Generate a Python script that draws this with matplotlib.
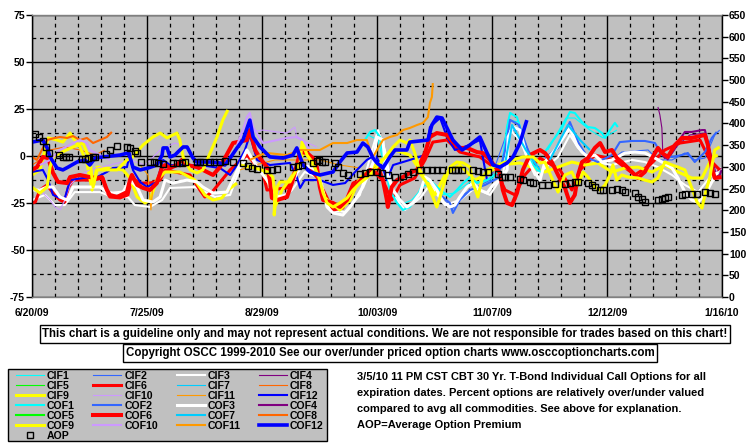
import numpy as np
import matplotlib
matplotlib.use("Agg")
import matplotlib.pyplot as plt
from matplotlib.lines import Line2D
from matplotlib.patches import Rectangle

N = np.nan

# ---- axis data ----
x_tick_days = [0, 35, 70, 105, 140, 175, 210]
x_tick_labels = ['6/20/09', '7/25/09', '8/29/09', '10/03/09', '11/07/09', '12/12/09', '1/16/10']
left_ticks = [-75, -50, -25, 0, 25, 50, 75]
right_ticks = list(range(0, 651, 50))

# ---- series (day offset from 6/20/09, percent over/under) ----
cif1_days = [102.2,105.3,108.3,112,115.6,119.6,124.2,128.7,133.3,139.4,143,144.9,148.2,151.5,154,157,162.5,165.2,169.8,173.8,176.5,178]
cif1_vals = [11.2,8.5,-12.8,-26.1,-23.4,-15.4,-20.7,-19.7,-13.8,-13.8,-4.8,19.2,18.1,-4.8,N,3.2,20.2,20.2,13.8,9.6,12.2,13.8]

cif2_days = [125.7,127.8,130.9,139.4,144.9,148.5,153.4,155,176.5,179.5,187.5,190.5,194.8,198.7,201.7,204.8,207.8,209.3]
cif2_vals = [-23.4,-28.7,-20.7,-12.8,13.8,13.8,-6.4,N,-2.1,2.1,3.2,-2.1,-2.1,1.6,-2.1,-1.1,11.2,13.8]

cif3_days = [0,4,7,10,13,20.7,25.3,29.2,31.3,35.9,39.6,42,49.6,55.7,60.3,63.3,66.3,70.9,75.5,79.1,
             83,87.6,90.7,95.3,99.8,103.5,105.3,107.4,109.9,113.5,118.1,121.1,125.7,130.2,134.8,139.4,143.3,145.5,148.5,153,
             156.1,160.1,163.7,166.2,171.3,176.5,182.6,186.5,190.5,194.8,198.7,202.7,206.9,209.9]
cif3_vals = [-23.4,-20.7,-26.1,-26.1,-19.2,-19.2,-22.3,-21.8,-26.1,-27.1,-23.4,-17.0,-16.5,-21.8,-20.7,-6.4,0.5,-10.1,-23.4,-18.1,
             -8.5,-11.7,-28.7,-29.8,-20.7,3.2,13.8,3.2,-20.7,-28.7,-22.3,-15.4,-26.1,-23.4,-17.0,-20.7,-10.1,13.8,8.5,-10.1,
             -6.4,-0.5,11.2,4.3,-3.2,-4.8,-2.1,-3.2,-5.9,-10.1,-15.4,-19.2,-10.1,-6.4]

cif4_days = [190.5,191.1,191.7,192,193.5,196.6,200.2,204.8,206.3,208.1,209.9]
cif4_vals = [26.1,21.8,14.9,0.5,-2.1,5.9,11.2,12.2,3.2,-8.5,-6.4]

cif5_days = []
cif5_vals = []

cif6_days = [0,1,2.4,4.6,6.4,8.5,10,11,12.5,18.6,21.6,22.8,23.7,26.8,29.2,30.4,32.9,35.9,39,40.5,
             43.5,48.1,51.1,52.6,54.8,60.3,65.4,70.3,71.5,77.6,81.6,86.7,91.6,94.6,97.7,101.3,105.3,107.4,109.5,112,
             116.5,119.6,122,126.3,130.2,136.3,140.9,144,147,150,154.6,160.7,164.3,166.8,171.3,177.4,183.5,188,192.6,197.2,
             203.3,206.3,209.3]
cif6_vals = [-25.0,-24.5,-18.1,-15.4,-19.7,-23.4,-24.5,-17.0,-12.8,-12.8,-11.7,-19.2,-21.8,-22.3,-20.7,-11.7,-14.4,-14.4,-12.8,-7.4,
             -8.5,-10.1,-18.1,-21.8,-19.2,-7.4,0.5,-9.0,-18.1,-17.0,-2.1,-11.2,-28.7,-27.7,-14.4,-11.7,-4.8,-15.4,-23.4,-15.4,
             -11.7,-2.1,7.4,8.5,2.1,-0.5,-6.4,-18.1,-20.7,-10.1,-1.1,-7.4,-18.1,-7.4,0.5,-2.1,-10.1,-4.8,3.2,6.9,
             8.5,-2.1,-7.4]

cif7_days = []
cif7_vals = []

cif8_days = [0,2.4,5.5,10,14.6,19.2,22.2]
cif8_vals = [-4.8,-2.1,3.2,4.8,3.2,0.5,3.2]

cif9_days = [0,2.4,4.9,7.6,9.4,11.6,12.5,14.6,16.7,18.3,19.8,27.7,29.8,32,34.4,35.9,38,40.5,45,49.6,
             52.6,55.1,57.8,59.6,62.4,64,66.3,69.7,72.4,74.2,76.1,80,83,86.1,89.2,93.7,96.8,99.8,104.4,110.5,
             115,119.6,122.6,125.7,130.2,134.8,137.9,142.4,148.5,156.1,160.1,164.3,168.3,172.2,176.5,180.5,184.4,188.7,192.6,196.6,
             200.8,203.9,206.9,208.7]
cif9_vals = [-10.1,-7.4,9.6,8.5,7.4,12.2,9.6,4.8,-3.7,-18.1,-5.9,-7.4,-11.7,-21.8,-25.0,-23.4,-12.8,-8.5,-8.5,-12.8,
             -20.7,-23.4,-22.3,-18.1,-14.4,N,-4.8,-7.4,-15.4,-26.1,-18.1,-8.5,3.2,-6.4,-22.3,-28.7,-23.4,-11.7,-4.8,3.2,
             0.5,-11.7,-20.7,-10.1,-4.8,-12.8,-10.1,-4.8,-3.7,-8.5,-5.9,-3.2,-4.8,-3.7,-8.5,-6.4,-5.9,-8.5,-4.8,-8.5,
             -11.7,-11.7,-1.1,0.5]

cif10_days = [2.4,5.5,7,8.5,10,11.6,14.6,17.6,23.7,29.8,34.4,39,43.5,48.1,55,66.3,70.3,74.6,77.6,80,80.6,86.7]
cif10_vals = [-18.1,-23.4,-27.1,-28.7,-23.4,-15.4,-10.1,-7.4,-4.8,-2.1,-4.8,3.2,6.9,4.3,N,12.8,13.8,12.8,12.2,15.4,9.6,4.8]

cif11_days = [32.9,35.3,36.2,36.8,39,50,63.3,67.9,74,81.6,87.6,93.7,99.8]
cif11_vals = [-4.8,-10.1,-28.7,-15.4,-8.5,N,-7.4,-4.8,-2.1,-2.1,-2.1,-4.8,-6.4]

cif12_days = [0,3.3,4.9,6.4,8.5,10,11.6,15.5,19.8,22.8,24.6,28.9,29.8,30.7,32.9,35,38,39.9,42,45,
              51.1,57.2,60.3,62.4,64.8,66.3,68.5,72.4,78.5,80.6,81.6,83,87.6,91.6,95.3,98.9,101.9,104.4,106.8,108,
              109.9,115,119.6,121.1,124.2,126.3,128.7,133.3,136.3,137.9,138.5]
cif12_vals = [-8.5,-7.4,-12.8,-20.7,-22.3,-22.3,-12.8,-11.7,-11.2,-8.5,-6.4,-5.9,1.6,-7.4,-13.8,-16.5,-13.8,-2.1,-4.8,-4.8,
              -4.8,-6.4,-10.1,-4.8,3.2,11.2,-2.1,-4.8,-3.7,-11.2,-17.0,-12.8,-12.8,-15.4,-14.4,-7.4,-2.1,0.5,-6.4,-12.8,
              -4.8,-2.1,0.5,15.4,20.2,10.1,3.2,5.9,8.5,-7.4,-12.8]

cof1_days = [101.3,102.9,104.4,105.9,107.4,108.9,111.1,112.9,115,117.2,119,121.1,124.2,127.2,129.3,131.2,133.3,135.4,138.5,141.5,
             143.3,144.6,145.5,147.6,149.4,151.5,153.7,155.5,155.8,156.1,158.2,161.3,163.7,165.2,167.4,169.2,171.3,173.5,174.4,175.9,
             177.4,178.3]
cof1_vals = [8.5,12.8,13.8,10.1,-3.7,-18.1,-25.0,-28.7,-27.1,-21.8,-14.4,-12.8,-18.1,-21.8,-18.1,-14.4,-11.2,-14.4,-12.8,-9.0,
             -2.1,15.4,22.9,20.7,10.1,-2.1,-7.4,-9.0,N,2.1,7.4,14.9,23.4,22.9,18.1,15.4,14.9,12.2,9.6,13.8,
             17.6,15.4]

cof2_days = [124.2,127.2,128.1,130.2,133.3,137.9,141.8,144,145.5,148.2,150.9,153.4,155,156.1,160.1,163.7,166.2,169.2,172.2,176.5,
             178.9,182.6,186.5,189.6,191.7,194.8,197.8,199.6,201.7,204.8,206.9,208.4]
cof2_vals = [-20.7,-25.0,-30.3,-23.4,-18.1,-15.4,-11.7,3.2,19.2,16.5,3.2,-4.8,N,-1.1,4.3,18.1,7.4,-1.1,-3.2,0.5,
             7.4,8.0,8.0,6.9,0.5,-0.5,0.5,1.6,-3.2,2.1,9.6,12.8]

cof3_days = [0,2.4,4.6,6.4,8.5,10.7,12.5,20.7,22.8,24.6,27.7,29.8,32,33.8,36.8,39,40.5,42.9,47.2,50.2,
             52,55.1,59.3,61.8,65.4,68.5,71.5,74.6,77.6,80.6,82.5,84.6,86.7,88.2,89.8,91.6,94.6,96.8,98.9,100.7,
             102.9,103.8,105,106.8,107.4,108,109.9,112,114.1,115.9,118.1,119.6,121.1,123.2,125.1,127.2,128.7,130.2,132.4,134.2,
             136.3,138.5,140.3,142.4,144.6,144.9,146.4,148.5,150.6,152.5,154.6,156.1,159.2,161.6,163.7,165.8,167.4,169.2,171.3,173.5,
             176.5,178.3,180.5,183.5,186.5,189.6,191.7,194.8,196.6,198.7,200.8,202.7,204.8,206.9,208.7]
cof3_vals = [-18.1,-18.1,-16.5,-16.5,-21.8,-23.4,-16.5,-16.5,-19.2,-19.7,-19.2,-12.8,-16.5,-23.4,-24.5,-21.8,-12.8,-14.4,-12.8,-13.8,
             -16.5,-19.7,-19.2,-10.1,3.2,-5.9,-12.8,-21.8,-20.7,-9.0,-4.8,-5.9,-7.4,-16.5,-27.1,-30.3,-31.4,-27.1,-21.8,-16.5,
             -7.4,-3.7,10.1,8.5,-3.7,-9.0,-18.1,-23.4,-27.1,-25.0,-19.7,-11.2,-12.8,-18.1,-24.5,-27.1,-26.1,-21.8,-16.5,-14.4,
             -18.1,-19.7,-15.4,-12.8,-7.4,10.1,15.4,13.8,-0.5,-7.4,-12.8,-3.2,3.2,9.6,14.9,5.9,2.1,-0.5,0.5,-3.2,
             -2.1,-0.5,1.6,2.1,1.6,-1.1,-3.2,-6.4,-11.7,-19.2,-23.4,-24.5,-20.7,-13.8,-8.5]

cof4_days = [192,192.6,194.8,196.6,198.7,200.8,203.9,204.8,205.7,206.9,207.8,209.3,209.9]
cof4_vals = [0.5,-1.1,2.1,7.4,12.8,12.8,13.8,13.8,7.4,-3.2,-11.7,-10.1,-7.4]

cof5_days = []
cof5_vals = []

cof6_days = [0,1.5,3.3,4.9,6.4,7.9,10.7,11.6,14.6,17.6,19.8,21.3,22.8,23.7,25.9,28.9,29.8,30.4,32,33.8,
             35.9,38,39.6,40.5,42,44.1,45.6,47.2,50.2,52,55.1,57.2,61.2,65.4,66.3,67.9,69.4,71.5,72.4,73,
             74.6,77.6,79.4,80.6,81.6,83.7,85.5,86.7,87.6,88.6,91.6,93.7,95.9,97.7,99.2,100.7,102.9,104.4,106.8,108,
             108.3,109.5,111.1,112.9,115,117.2,119.6,121.1,123.2,126.3,128.1,130.2,132.4,135.4,137.2,139.4,142.4,143.3,144.6,146.1,
             147.6,149.4,151.5,154.6,156.1,158.2,160.1,162.2,163.7,165.2,166.2,167.4,169.2,171.3,172.9,174.4,176.5,178,179.5,181.4,
             184.4,186.5,188.7,190.5,191.7,193.5,195.7,197.8,200.8,204.8,205.7,206.9,207.8,209.9]
cof6_vals = [-7.4,-5.9,-0.5,-1.1,-9.0,-13.8,-14.4,-11.2,-10.1,-11.2,-11.7,-11.2,-18.1,-20.7,-21.8,-19.2,-12.8,-10.1,-15.4,-17.0,
             -18.1,-14.4,-5.9,-4.8,-6.4,-4.8,-2.1,-4.8,-5.9,-7.4,-10.1,-5.9,6.9,8.5,13.8,3.2,-1.1,-5.9,-12.8,-22.3,
             -23.4,-21.8,-12.8,-4.8,2.1,1.6,-1.1,-5.9,-16.5,-23.4,-25.0,-27.1,-23.4,-16.5,-14.4,-11.7,-7.4,-8.5,-12.8,-23.4,
             -27.1,-16.5,-12.8,-11.2,-9.0,-7.4,1.6,10.1,12.2,11.2,7.4,4.3,4.3,2.1,1.6,-2.1,-9.0,-18.1,-25.0,-26.1,
             -19.7,-7.4,0.5,3.2,1.6,-3.2,-10.1,-17.0,-25.0,-20.7,-10.1,-3.2,-1.1,4.3,6.9,2.1,3.2,-1.1,-3.2,-6.4,
             -11.7,-8.5,-1.1,4.3,1.6,-0.5,5.9,9.6,9.6,11.2,5.9,-6.4,-11.7,-11.2]

cof7_days = [143.9,146.1,150.3,154.6,156,157.6,163.1,166.8,169.8]
cof7_vals = [-4.8,16.5,3.2,-7.4,N,-2.1,16.5,8.5,3.2]

cof8_days = [0,1.5,3,4.6,7,8.5,10.7,12.5,14.6,16.7,18.6,20.7,22.8,24.3]
cof8_vals = [-0.5,-2.1,3.2,8.5,9.6,10.1,9.6,10.6,8.5,9.6,6.9,8.5,10.1,12.8]

cof9_days = [0,2.4,4.6,5.5,6.4,8.5,12.5,15.5,17.6,18.6,19.8,25.9,28.9,30.7,33.8,36.8,39,41.1,42.9,44.1,
             45,46,48.1,50.2,52,54.2,56.3,58.1,59.6,60.5,63.3,67.9,71.8,73.3,73.9,73.7,74.6,75.5,78.5,81.6,
             82.2,83.7,85.5,87.6,88.6,89.8,91.6,93.7,95.9,97.7,99.8,102.9,106.8,109.9,112,114.1,115,116.5,118.1,120.2,
             122,123.2,124.2,125.7,127.2,129.3,131.2,133.3,134.2,135.7,136.9,138.5,140.3,143.3,146.4,149.4,152.5,154.6,156.1,158.2,
             160.1,162.2,164.3,166.2,167.7,169.2,171.3,172.9,174.4,175.9,176.8,178,179.5,181.4,184.4,186.5,188.7,190.5,192.6,194.8,
             196.6,198.7,200.8,202.4,203.9,204.8,206.3,207.8,209.3]
cof9_vals = [-16.5,-19.7,-16.5,-5.9,-0.5,1.6,4.8,6.9,-2.1,-16.5,-7.4,-7.4,-2.1,-0.5,5.9,10.1,12.2,9.6,11.2,12.2,
             8.5,-0.5,-7.4,-9.0,-7.4,1.6,10.1,19.2,24.5,N,-4.8,-6.4,-8.5,-11.2,-19.7,-31.4,-16.5,-13.8,-13.8,-3.7,
             7.4,0.5,-3.7,-12.8,-19.7,-25.0,-27.1,-25.0,-22.3,-18.1,-14.4,-10.1,-2.1,4.8,8.5,6.9,8.5,1.6,-9.0,-14.4,
             -21.8,-27.1,-21.8,-12.8,-5.9,-3.2,-3.7,-5.9,-14.4,-21.8,-12.8,-7.4,-5.9,-3.7,-2.1,-0.5,-0.5,-3.7,-3.2,-11.7,
             -19.2,-10.1,-8.5,-15.4,-8.5,-11.2,-16.5,-18.1,-15.4,-10.1,-4.8,-12.8,-10.1,-11.2,-11.7,-12.8,-13.8,-11.7,-3.2,-4.8,
             -5.9,-7.4,-17.0,-24.5,-27.7,-20.7,-11.2,3.2,4.8]

cof10_days = [2.4,5.5,8.5,12.5,14.6,16.7,17.6,20.7,23.7,40,62.4,64.2,65.4,66.3,67.3,70.3,74.6,77.6,80.6,82.5,84.6,87.6]
cof10_vals = [-4.8,-2.1,3.2,6.9,8.5,6.9,3.2,0.5,-2.1,N,5.9,13.8,20.7,22.9,15.4,6.9,8.5,9.6,10.1,8.5,3.2,3.2]

cof11_days = [66.3,69.4,71.5,77.6,81.6,87.6,91.6,95.9,98.9,101.9,102.9,103.8,105,106.8,108.9,111.1,112.9,115,117.2,119,
              120.5,121.1,121.7,122]
cof11_vals = [-2.1,0.5,1.6,0.5,3.2,3.2,6.9,6.9,8.5,8.5,3.2,-0.5,3.2,8.5,10.1,11.2,13.8,14.9,16.5,17.6,
              20.7,28.2,31.4,38.8]

cof12_days = [0,3.3,4.6,5.5,7.6,9.4,11,13.7,16.1,17.6,19.2,21.6,26.8,29.2,29.8,30.7,32.9,35.3,38,39.6,
              39.9,41.1,42,43.5,44.4,46,47.2,49,50.2,54.2,57.2,58.7,60.3,62.4,64.2,66.3,67.3,69.4,72.4,76.4,
              79.4,80.6,81.6,82.5,84.6,87.6,91.6,93.7,95.9,98.9,100.7,102.2,103.8,105,106.8,108.9,110.5,114.1,115,120.5,
              121.7,123.2,124.8,126.3,128.1,130.9,133.3,136.3,138.5,140.3,142.4,144.6,146.4,148.5,150.6]
cof12_vals = [7.4,8.5,4.3,-0.5,-6.4,-7.4,-5.9,-3.2,-2.1,-4.8,-1.1,-0.5,0.5,1.6,-0.5,-5.9,-7.4,-6.4,-4.8,0.5,
              4.3,4.3,-0.5,0.5,2.1,4.8,4.8,-1.1,-3.2,-3.2,-3.7,-4.8,-1.1,4.3,8.5,19.1,10.1,4.8,-0.5,-1.1,
              0.5,4.3,-0.5,-4.8,-8.5,-10.1,-8.5,-3.2,1.6,2.1,6.9,4.8,-1.1,-3.7,-6.4,-0.5,3.2,3.2,7.4,8.5,
              16.5,20.7,20.2,14.9,8.5,3.2,5.9,10.1,1.6,-4.8,-5.9,-3.7,-0.5,6.9,19.1]

# Average option premium (right axis)
aop_days = [0.9,2.1,3.3,4.3,5.2,8.2,9.4,10.3,11.3,15.2,16.1,17.0,18.6,19.2,22.5,23.7,25.9,28.9,29.8,31.3,
            32.0,33.2,35.9,37.1,38.3,39.9,42.9,44.1,45.6,46.6,50.2,51.1,52.0,54.2,55.4,57.2,58.7,61.2,64.2,65.7,
            66.9,68.5,71.5,73.0,74.6,79.4,80.9,82.2,85.5,86.7,87.3,88.2,89.2,92.2,93.1,94.6,96.2,99.8,101.3,102.9,
            105.0,106.5,108.3,110.5,112.9,114.4,115.9,118.1,120.2,121.7,123.2,124.8,127.8,128.7,129.6,130.9,134.2,135.7,137.2,138.8,
            141.8,143.0,143.9,145.5,148.5,149.4,151.5,152.5,155.2,157.0,159.2,162.2,163.7,165.2,166.2,169.2,170.4,171.3,172.9,173.8,
            176.5,178.0,179.5,180.5,183.5,184.4,185.6,186.5,190.5,191.7,192.6,193.5,197.8,198.7,200.8,202.4,204.8,206.3,207.8]
aop_vals = [376,369,360,346,332,327,323,323,323,318,318,320,323,323,330,339,348,346,343,336,
            332,311,311,311,309,307,309,309,309,311,311,311,311,311,311,311,313,311,309,302,
            297,295,293,293,295,300,302,304,309,313,316,311,311,309,300,286,281,283,286,288,
            288,286,281,277,279,283,288,293,293,293,293,293,293,293,293,293,293,290,288,288,
            283,277,277,277,272,270,265,263,258,258,260,260,263,265,265,263,258,254,247,247,
            247,249,247,242,240,231,226,219,224,226,228,231,235,237,237,237,242,240,237]

series_names = ['CIF1','CIF2','CIF3','CIF4','CIF5','CIF6','CIF7','CIF8','CIF9','CIF10','CIF11','CIF12',
                'COF1','COF2','COF3','COF4','COF5','COF6','COF7','COF8','COF9','COF10','COF11','COF12']
series_data = [(cif1_days,cif1_vals),(cif2_days,cif2_vals),(cif3_days,cif3_vals),(cif4_days,cif4_vals),
               (cif5_days,cif5_vals),(cif6_days,cif6_vals),(cif7_days,cif7_vals),(cif8_days,cif8_vals),
               (cif9_days,cif9_vals),(cif10_days,cif10_vals),(cif11_days,cif11_vals),(cif12_days,cif12_vals),
               (cof1_days,cof1_vals),(cof2_days,cof2_vals),(cof3_days,cof3_vals),(cof4_days,cof4_vals),
               (cof5_days,cof5_vals),(cof6_days,cof6_vals),(cof7_days,cof7_vals),(cof8_days,cof8_vals),
               (cof9_days,cof9_vals),(cof10_days,cof10_vals),(cof11_days,cof11_vals),(cof12_days,cof12_vals)]

# ---- styling ----
base_colors = ['#00FFFF','#3366FF','#FFFFFF','#800080','#00FF00','#FF0000',
               '#00CCFF','#FF6600','#FFFF00','#CC99FF','#FF9900','#0000FF']
cif_lw = [0.8,0.8,1.5,0.8,0.8,2.2,0.8,0.8,2.2,0.8,0.8,1.5]
cof_lw = [1.5,1.5,2.2,1.5,1.5,2.9,1.5,1.5,2.2,1.5,1.5,2.6]
colors = base_colors + base_colors
lws = cif_lw + cof_lw

plt.rcParams['font.family'] = ['Liberation Sans', 'DejaVu Sans']
plt.rcParams['font.weight'] = 'bold'

fig = plt.figure(figsize=(7.55, 4.46), dpi=100, facecolor='white')
ax = fig.add_axes([32/755, 1-297/446, 690/755, 282/446])
ax.set_facecolor('#C0C0C0')

handles = {}
for name, (d, v), c, lw in zip(series_names, series_data, colors, lws):
    ax.plot(d, v, color=c, lw=lw, solid_joinstyle='round', solid_capstyle='butt')
    handles[name] = Line2D([], [], color=c, lw=lw)

ax.set_xlim(0, 210)
ax.set_ylim(-75, 75)
ax.set_xticks(x_tick_days)
ax.set_xticklabels(x_tick_labels, fontsize=7.5, fontweight='bold')
ax.set_xticks(np.arange(0, 211, 7), minor=True)
ax.set_yticks(left_ticks)
ax.set_yticklabels([str(t) for t in left_ticks], fontsize=7.5, fontweight='bold')
ax.set_yticks(np.arange(-62.5, 75, 25), minor=True)
ax.tick_params(axis='x', which='both', length=0, pad=8)
ax.tick_params(axis='y', which='major', length=4, width=1, direction='out', pad=1)
ax.tick_params(axis='y', which='minor', length=0)
ax.set_axisbelow(True)
ax.grid(which='major', color='black', lw=1.0, ls='-')
ax.grid(which='minor', color='black', lw=0.9, ls=(0, (3, 3)))
for side, s in ax.spines.items():
    s.set_color('black' if side in ('left', 'right') else '#808080')
    s.set_linewidth(1)

ax2 = ax.twinx()
ax2.set_ylim(0, 650)
ax2.plot(aop_days, aop_vals, ls='none', marker='s', markersize=5, markerfacecolor='none',
         markeredgecolor='black', markeredgewidth=1.0)
ax2.set_yticks(right_ticks)
ax2.set_yticklabels([str(t) for t in right_ticks], fontsize=7.5, fontweight='bold')
ax2.tick_params(axis='y', length=4, width=1, direction='out', pad=1)
for s in ax2.spines.values():
    s.set_visible(False)

# ---- disclaimer / copyright boxes ----
fig.text(385/755, 1-334/446,
         'This chart is a guideline only and may not represent actual conditions. We are not responsible for trades based on this chart!',
         ha='center', va='center', fontsize=8.3, fontweight='bold',
         bbox=dict(boxstyle='square,pad=0.22', facecolor='white', edgecolor='black', lw=1))
fig.text(390/755, 1-353/446,
         'Copyright OSCC 1999-2010 See our over/under priced option charts www.osccoptioncharts.com',
         ha='center', va='center', fontsize=8.3, fontweight='bold',
         bbox=dict(boxstyle='square,pad=0.22', facecolor='white', edgecolor='black', lw=1))

# ---- legend (gray box + entries) ----
fig.patches.append(Rectangle((8/755, 1-441/446), 319/755, 72/446, transform=fig.transFigure,
                             facecolor='#C0C0C0', edgecolor='black', lw=1.0, zorder=0))
aop_handle = Line2D([], [], ls='none', marker='s', markersize=5, markerfacecolor='none',
                    markeredgecolor='black', markeredgewidth=1.0)
col0 = ['CIF1','CIF5','CIF9','COF1','COF5','COF9']
col1 = ['CIF2','CIF6','CIF10','COF2','COF6','COF10']
col2 = ['CIF3','CIF7','CIF11','COF3','COF7','COF11']
col3 = ['CIF4','CIF8','CIF12','COF4','COF8','COF12']
leg_h, leg_l = [], []
for n in col0:
    leg_h.append(handles[n]); leg_l.append(n)
leg_h.append(aop_handle); leg_l.append('AOP')
for col in (col1, col2, col3):
    for n in col:
        leg_h.append(handles[n]); leg_l.append(n)
leg = fig.legend(leg_h, leg_l, ncol=4, loc='upper left', bbox_to_anchor=(16/755, 1-371/446),
                 prop={'size': 7.6, 'weight': 'bold'}, frameon=False,
                 handlelength=2.65, handletextpad=0.28, columnspacing=1.75,
                 labelspacing=0.0, borderpad=0.0, borderaxespad=0)

info_lines = ['3/5/10 11 PM CST CBT 30 Yr. T-Bond Individual Call Options for all',
              'expiration dates. Percent options are relatively over/under valued',
              'compared to avg all commodities. See above for explanation.',
              'AOP=Average Option Premium']
for i, t in enumerate(info_lines):
    fig.text(357/755, 1-(377+16*i)/446, t, ha='left', va='center', fontsize=8.0, fontweight='bold')

fig.savefig('out.png', dpi=100, facecolor='white')
